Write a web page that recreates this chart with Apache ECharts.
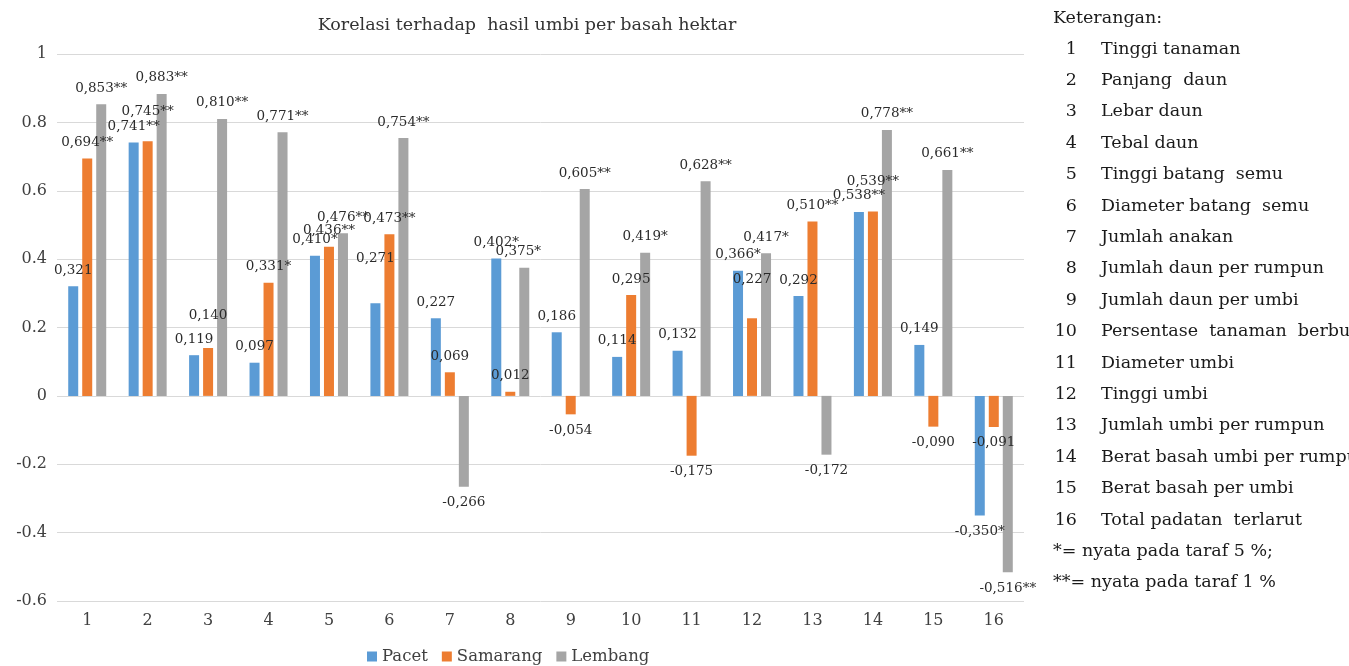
<!DOCTYPE html>
<html>
<head>
<meta charset="utf-8">
<script src="https://cdn.jsdelivr.net/npm/echarts@6/dist/echarts.min.js"></script>
<style>
  html, body { margin: 0; padding: 0; background: #fff; }
  #chart { width: 1349px; height: 666px; }
</style>
</head>
<body>
<div id="chart"></div>
<script>
// Trait numbers on the x axis
const categories = ['1','2','3','4','5','6','7','8','9','10','11','12','13','14','15','16'];

// Correlation coefficients with tuber yield, per location
const pacet    = [0.321, 0.741, 0.119, 0.097, 0.410, 0.271, 0.227, 0.402, 0.186, 0.114, 0.132, 0.366, 0.292, 0.538, 0.149, -0.350];
const samarang = [0.694, 0.745, 0.140, 0.331, 0.436, 0.473, 0.069, 0.012, -0.054, 0.295, -0.175, 0.227, 0.510, 0.539, -0.090, -0.091];
const lembang  = [0.853, 0.883, 0.810, 0.771, 0.476, 0.754, -0.266, 0.375, 0.605, 0.419, 0.628, 0.417, -0.172, 0.778, 0.661, -0.516];

// Significance marks (* = 5 %, ** = 1 %)
const sigPacet    = ['', '**', '', '', '*', '', '', '*', '', '', '', '*', '', '**', '', '*'];
const sigSamarang = ['**', '**', '', '*', '**', '**', '', '', '', '', '', '', '**', '**', '', ''];
const sigLembang  = ['**', '**', '**', '**', '**', '**', '', '*', '**', '*', '**', '*', '', '**', '**', '**'];

// Trait names for the side key
const traitNames = [
  'Tinggi tanaman', 'Panjang  daun', 'Lebar daun', 'Tebal daun', 'Tinggi batang  semu',
  'Diameter batang  semu', 'Jumlah anakan', 'Jumlah daun per rumpun', 'Jumlah daun per umbi',
  'Persentase  tanaman  berbunga', 'Diameter umbi', 'Tinggi umbi', 'Jumlah umbi per rumpun',
  'Berat basah umbi per rumpun', 'Berat basah per umbi', 'Total padatan  terlarut'
];
const noteLines = ['*= nyata pada taraf 5 %;', '**= nyata pada taraf 1 %'];

// Hand-placed label nudges [dx, dy] where labels would collide
const labelNudge = {
  Samarang: { 1: [0, -14], 2: [0, -17], 11: [0, -23], 13: [0, -14] },
  Pacet: { 5: [0, -29] },
  Lembang: { 7: [-6, 0] }
};

const serif = '"DejaVu Serif", "Liberation Serif", serif';
const fmt = (v, s) => v.toFixed(3).replace('.', ',') + s;

function makeSeries(name, values, sig, color) {
  const nudges = labelNudge[name] || {};
  return {
    name: name,
    type: 'bar',
    barWidth: 10,
    barGap: '40%',
    itemStyle: { color: color },
    data: values.map((v, i) => ({
      value: v,
      label: { position: v < 0 ? 'bottom' : 'top', offset: nudges[i] || [0, 0] }
    })),
    label: {
      show: true,
      distance: 9,
      fontFamily: serif,
      fontSize: 13.5,
      color: '#2b2b2b',
      formatter: p => fmt(values[p.dataIndex], sig[p.dataIndex])
    }
  };
}

// Side key: trait numbers and names
const keyFont = '17.5px ' + serif;
const keyElements = [{
  type: 'text', x: 1053, y: 9,
  style: { text: 'Keterangan:', font: keyFont, fill: '#1a1a1a' }
}];
traitNames.forEach((t, i) => {
  const y = 40 + i * 31.4;
  keyElements.push({
    type: 'text', x: 1077, y: y,
    style: { text: String(i + 1), font: keyFont, fill: '#1a1a1a', align: 'right' }
  });
  keyElements.push({
    type: 'text', x: 1101, y: y,
    style: { text: t, font: keyFont, fill: '#1a1a1a' }
  });
});
noteLines.forEach((t, i) => {
  keyElements.push({
    type: 'text', x: 1053, y: 542 + i * 31.4,
    style: { text: t, font: keyFont, fill: '#1a1a1a' }
  });
});

const chart = echarts.init(document.getElementById('chart'));
chart.setOption({
  animation: false,
  title: {
    text: 'Korelasi terhadap  hasil umbi per basah hektar',
    left: 522, top: 11, textAlign: 'center',
    textStyle: { fontFamily: serif, fontSize: 17.5, fontWeight: 'normal', color: '#333' }
  },
  legend: {
    bottom: -4, left: 362,
    itemWidth: 10, itemHeight: 10, itemGap: 14,
    icon: 'rect',
    textStyle: { fontFamily: serif, fontSize: 16.5, color: '#404040' },
    data: ['Pacet', 'Samarang', 'Lembang']
  },
  grid: { left: 57, right: 325, top: 54, bottom: 65, containLabel: false },
  xAxis: {
    type: 'category',
    data: categories,
    position: 'bottom',
    axisLine: { show: false },
    axisTick: { show: false },
    axisLabel: { margin: 12, fontFamily: serif, fontSize: 16, color: '#404040' }
  },
  yAxis: {
    type: 'value',
    min: -0.6, max: 1, interval: 0.2,
    axisLine: { show: false },
    axisTick: { show: false },
    splitLine: { lineStyle: { color: '#d9d9d9', width: 1 } },
    axisLabel: {
      margin: 10, fontFamily: serif, fontSize: 16, color: '#404040',
      formatter: v => String(Math.round(v * 10) / 10)
    }
  },
  graphic: keyElements,
  series: [
    makeSeries('Pacet', pacet, sigPacet, '#5B9BD5'),
    makeSeries('Samarang', samarang, sigSamarang, '#ED7D31'),
    makeSeries('Lembang', lembang, sigLembang, '#A5A5A5')
  ]
});
</script>
</body>
</html>
